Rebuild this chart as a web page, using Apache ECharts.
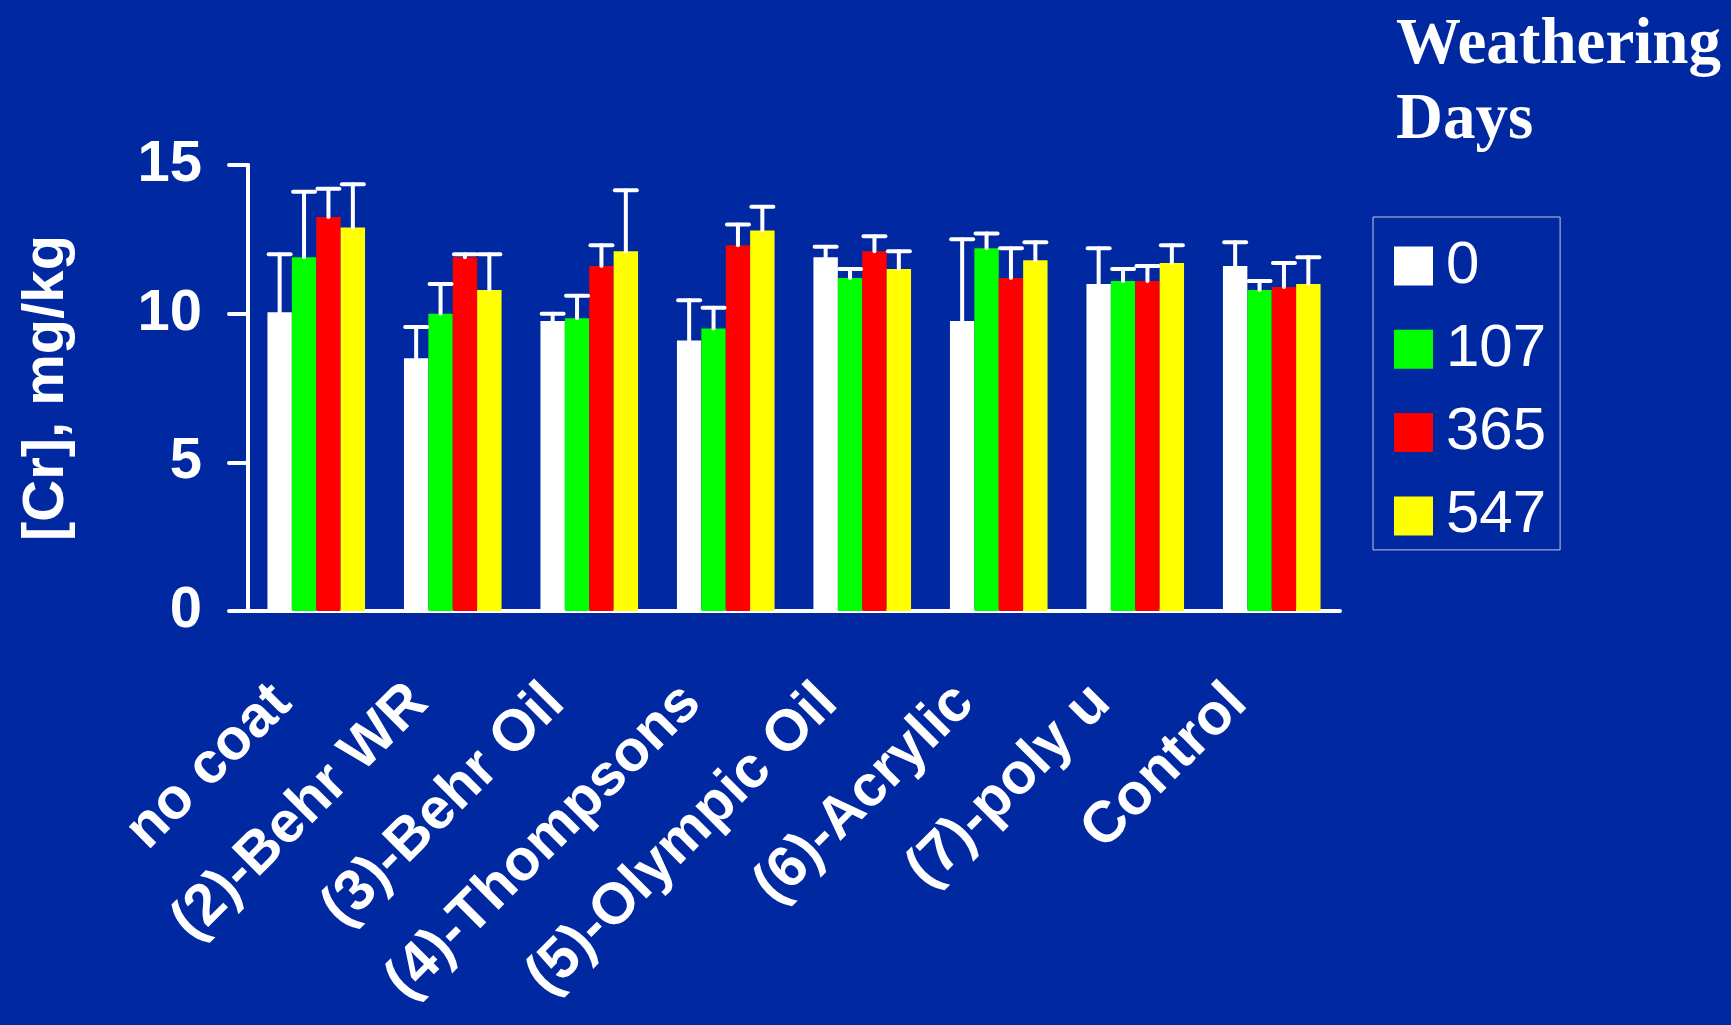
<!DOCTYPE html>
<html>
<head>
<meta charset="utf-8">
<title>[Cr] by coating and weathering days</title>
<script src="https://cdn.jsdelivr.net/npm/echarts@6/dist/echarts.min.js"></script>
<style>
  html, body { margin: 0; padding: 0; background: #0028a0; }
  #chart { width: 1731px; height: 1025px; }
</style>
</head>
<body>
<div id="chart"></div>
<script>
// Coatings on the category axis
const categories = ['no coat', '(2)-Behr WR', '(3)-Behr Oil', '(4)-Thompsons',
  '(5)-Olympic Oil', '(6)-Acrylic', '(7)-poly u', 'Control'];

// Weathering days (legend entries)
const dayNames = ['0', '107', '365', '547'];

// Mean [Cr], mg/kg, per coating
const day0Mean   = [10.05, 8.5, 9.75, 9.1, 11.9, 9.75, 11.0, 11.6];
const day107Mean = [11.9, 10.0, 9.85, 9.5, 11.2, 12.2, 11.1, 10.8];
const day365Mean = [13.25, 11.9, 11.6, 12.3, 12.1, 11.2, 11.1, 10.9];
const day547Mean = [12.9, 10.8, 12.1, 12.8, 11.5, 11.8, 11.7, 11.0];

// Standard deviation (upper error bar), mg/kg
const day0Sd   = [1.95, 1.05, 0.25, 1.35, 0.35, 2.75, 1.2, 0.8];
const day107Sd = [2.2, 1.0, 0.75, 0.7, 0.3, 0.5, 0.4, 0.3];
const day365Sd = [0.95, 0.1, 0.7, 0.7, 0.5, 1.0, 0.5, 0.8];
const day547Sd = [1.45, 1.2, 2.05, 0.8, 0.6, 0.6, 0.6, 0.9];

// Y axis ticks
const yTicks = [0, 5, 10, 15];

const means = [day0Mean, day107Mean, day365Mean, day547Mean];
const sds = [day0Sd, day107Sd, day365Sd, day547Sd];
const colors = ['#ffffff', '#00ff00', '#ff0000', '#ffff00'];

const BAR_W = 24.4;
const CAP_W = 22;
const SANS = '"Liberation Sans", Arial, sans-serif';
const FONT = 58;

// Upper error bar (stem + cap) above the bar in the given slot of the group
function errorBars(slot) {
  return function (params, api) {
    const ci = api.value(0);
    const mean = api.value(1);
    const sd = api.value(2);
    const base = api.coord([ci, mean]);
    const top = api.coord([ci, mean + sd]);
    const x = base[0] + (slot - 1.5) * BAR_W;
    const st = { stroke: '#ffffff', lineWidth: 4, lineCap: 'round' };
    return {
      type: 'group',
      children: [
        { type: 'line', shape: { x1: x, y1: base[1], x2: x, y2: top[1] }, style: st },
        { type: 'line', shape: { x1: x - CAP_W / 2, y1: top[1], x2: x + CAP_W / 2, y2: top[1] }, style: st }
      ]
    };
  };
}

const series = [];
dayNames.forEach((name, i) => {
  series.push({
    name: name,
    type: 'bar',
    data: means[i],
    barWidth: BAR_W,
    barGap: '0%',
    itemStyle: { color: colors[i] },
    z: 2
  });
});
dayNames.forEach((name, i) => {
  series.push({
    name: 'sd-' + name,
    type: 'custom',
    renderItem: errorBars(i),
    data: means[i].map((m, k) => [k, m, sds[i][k]]),
    encode: { x: 0, y: 1 },
    z: 3,
    silent: true
  });
});

const chart = echarts.init(document.getElementById('chart'));
chart.setOption({
  animation: false,
  backgroundColor: '#0028a0',
  title: {
    text: 'Weathering\nDays',
    left: 1396,
    top: 9,
    padding: 0,
    textStyle: {
      color: '#ffffff',
      fontFamily: '"Liberation Serif", "Times New Roman", serif',
      fontWeight: 'bold',
      fontSize: 65,
      lineHeight: 75
    }
  },
  legend: {
    data: dayNames,
    orient: 'vertical',
    left: 1373,
    top: 217,
    padding: [19, 14, 4, 21],
    itemGap: 23.3,
    itemWidth: 39,
    itemHeight: 39,
    icon: 'rect',
    borderColor: '#c8c8dc',
    borderWidth: 1,
    textStyle: {
      color: '#ffffff',
      fontFamily: SANS,
      fontSize: 60,
      lineHeight: 60,
      padding: [0, 0, 0, 8]
    }
  },
  grid: { left: 248, top: 165, width: 1092, height: 446, containLabel: false },
  xAxis: {
    type: 'category',
    data: categories,
    axisLine: { lineStyle: { color: '#ffffff', width: 4, cap: 'round' } },
    axisTick: { length: 19, lineStyle: { color: '#ffffff', width: 4, cap: 'round' } },
    axisLabel: {
      interval: 0,
      rotate: 45,
      margin: 49,
      padding: [0, 48, 0, 0],
      color: '#ffffff',
      fontFamily: SANS,
      fontWeight: 'bold',
      fontSize: FONT
    }
  },
  yAxis: {
    type: 'value',
    min: yTicks[0],
    max: yTicks[yTicks.length - 1],
    interval: 5,
    name: '[Cr], mg/kg',
    nameLocation: 'middle',
    nameGap: 172,
    nameTextStyle: {
      color: '#ffffff',
      fontFamily: SANS,
      fontWeight: 'bold',
      fontSize: FONT
    },
    splitLine: { show: false },
    axisLine: { show: true, lineStyle: { color: '#ffffff', width: 4, cap: 'round' } },
    axisTick: { show: true, length: 19, lineStyle: { color: '#ffffff', width: 4, cap: 'round' } },
    axisLabel: {
      margin: 46,
      color: '#ffffff',
      fontFamily: SANS,
      fontWeight: 'bold',
      fontSize: FONT
    }
  },
  series: series
});
</script>
</body>
</html>
